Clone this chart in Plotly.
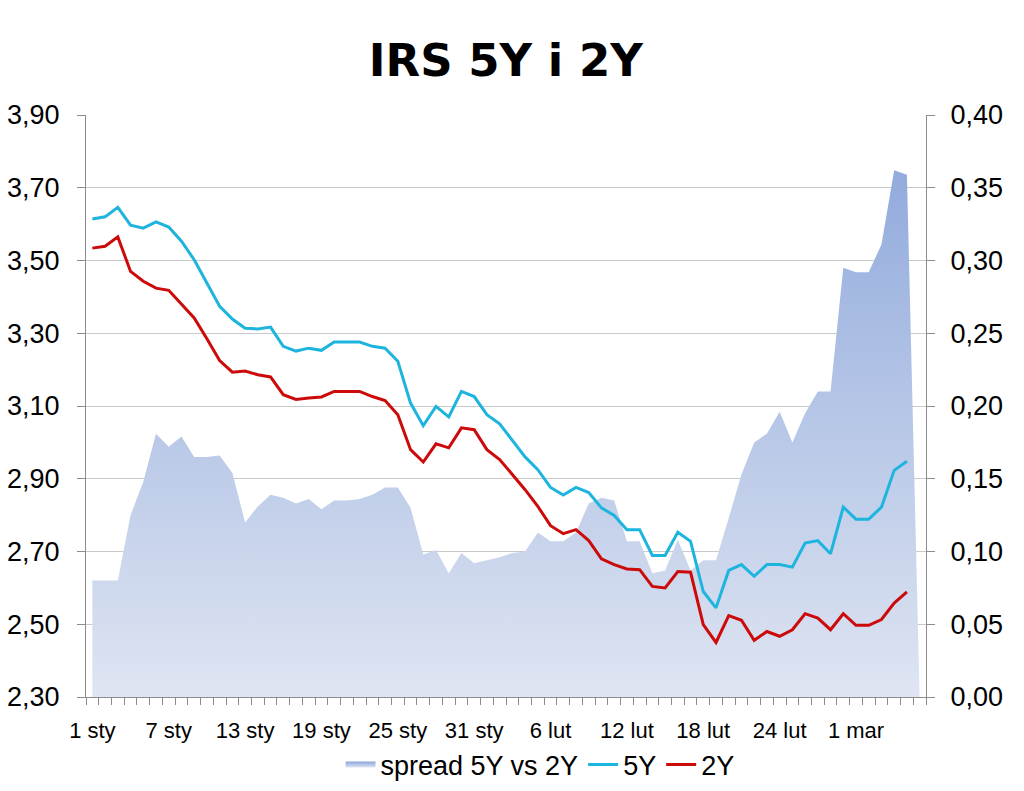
""" IRS 5Y i 2Y - spread chart with two rate lines """

import pandas as pd
import plotly.graph_objects as go

# daily dates, 1 Jan .. 6 Mar (leap year: 24 lut -> 1 mar is 6 days)
DATES = pd.date_range('2012-01-01', '2012-03-06', freq='D')

IRS_5Y = [
    3.614, 3.620, 3.646, 3.597, 3.589, 3.606, 3.592, 3.553, 3.502, 3.440,
    3.374, 3.339, 3.314, 3.312, 3.317, 3.264, 3.251, 3.259, 3.253, 3.276,
    3.276, 3.276, 3.264, 3.259, 3.223, 3.108, 3.046, 3.099, 3.070, 3.140,
    3.126, 3.076, 3.051, 3.007, 2.960, 2.925, 2.876, 2.855, 2.876, 2.862,
    2.820, 2.799, 2.760, 2.760, 2.689, 2.689, 2.753, 2.728, 2.590, 2.545,
    2.648, 2.664, 2.632, 2.664, 2.664, 2.657, 2.723, 2.730, 2.694, 2.822,
    2.789, 2.789, 2.822, 2.923, 2.948,
]

IRS_2Y = [
    3.534, 3.539, 3.565, 3.470, 3.443, 3.424, 3.418, 3.380, 3.342, 3.285,
    3.225, 3.193, 3.196, 3.186, 3.180, 3.131, 3.118, 3.122, 3.125, 3.140,
    3.140, 3.140, 3.126, 3.115, 3.076, 2.980, 2.946, 2.996, 2.985, 3.040,
    3.035, 2.980, 2.953, 2.911, 2.870, 2.824, 2.771, 2.749, 2.760, 2.730,
    2.680, 2.664, 2.652, 2.650, 2.604, 2.600, 2.645, 2.643, 2.499, 2.450,
    2.524, 2.511, 2.456, 2.480, 2.467, 2.485, 2.529, 2.517, 2.485, 2.529,
    2.497, 2.497, 2.513, 2.558, 2.589,
]

SPREAD = [
    0.080, 0.080, 0.080, 0.125, 0.148, 0.181, 0.172, 0.179, 0.165, 0.165,
    0.166, 0.154, 0.120, 0.131, 0.139, 0.137, 0.133, 0.136, 0.129, 0.135,
    0.135, 0.136, 0.139, 0.144, 0.144, 0.130, 0.098, 0.101, 0.085, 0.099,
    0.092, 0.094, 0.096, 0.099, 0.100, 0.113, 0.107, 0.107, 0.113, 0.133,
    0.137, 0.135, 0.107, 0.107, 0.085, 0.087, 0.108, 0.087, 0.094, 0.094,
    0.123, 0.153, 0.175, 0.181, 0.196, 0.175, 0.195, 0.210, 0.210, 0.295,
    0.292, 0.292, 0.311, 0.362, 0.359, 0.000,
]

TICK_LABELS = ['1 sty', '7 sty', '13 sty', '19 sty', '25 sty', '31 sty',
               '6 lut', '12 lut', '18 lut', '24 lut', '1 mar']
TICK_DATES = list(DATES[::6][:len(TICK_LABELS)])

FONT = 'Liberation Sans'
AXIS_GREY = '#8c8c8c'

fig = go.Figure()

# spread as gradient area, on the right-hand axis (drawn underneath)
fig.add_trace(go.Scatter(
    x=DATES, y=SPREAD,
    mode='none',
    fill='tozeroy',
    fillgradient=dict(type='vertical',
                      colorscale=[[0, '#dfe5f2'], [1, '#8aa5da']],
                      start=0, stop=0.4),
    name='spread 5Y vs 2Y',
    yaxis='y',
))

fig.add_trace(go.Scatter(
    x=DATES[:len(IRS_5Y)], y=IRS_5Y,
    mode='lines',
    line=dict(color='#1db4de', width=3),
    name='5Y',
    yaxis='y2',
))

fig.add_trace(go.Scatter(
    x=DATES[:len(IRS_2Y)], y=IRS_2Y,
    mode='lines',
    line=dict(color='#cc0a0a', width=3),
    name='2Y',
    yaxis='y2',
))

half_day = pd.Timedelta(hours=12)

fig.update_layout(
    width=1024, height=791,
    margin=dict(l=86, r=98, t=115, b=94),
    paper_bgcolor='white', plot_bgcolor='white',
    separators=', ',
    font=dict(family=FONT, color='black'),
    title=dict(text='<b>IRS 5Y i 2Y</b>', x=0.494, xref='container',
               y=1 - 60 / 791, yref='container', yanchor='middle',
               xanchor='center',
               font=dict(family='DejaVu Sans', size=45, color='black')),
    showlegend=True,
    legend=dict(orientation='h', x=540 / 1024, xref='container',
                xanchor='center',
                y=1 - 765 / 791, yref='container', yanchor='middle',
                font=dict(size=27), itemwidth=30,
                bgcolor='rgba(0,0,0,0)'),
    xaxis=dict(
        type='date', automargin=False,
        range=[DATES[0] - half_day, DATES[-1] + half_day],
        tickmode='array', tickvals=TICK_DATES, ticktext=TICK_LABELS,
        ticks='', tickfont=dict(size=22), ticklabelstandoff=14,
        showgrid=False, zeroline=False,
        showline=True, linecolor=AXIS_GREY, linewidth=1,
        minor=dict(ticks='outside', ticklen=7, tickcolor=AXIS_GREY,
                   tick0=DATES[0] - half_day, dtick=86400000,
                   showgrid=False),
    ),
    yaxis=dict(
        side='right', range=[0, 0.4], dtick=0.05, tick0=0, automargin=False,
        tickformat='.2f', tickfont=dict(size=27),
        ticks='outside', ticklen=8, tickcolor=AXIS_GREY,
        ticklabelstandoff=10,
        showgrid=True, gridcolor='#cacaca', gridwidth=1,
        zeroline=False,
        showline=True, linecolor=AXIS_GREY, linewidth=1,
    ),
    yaxis2=dict(
        overlaying='y', side='left', range=[2.30, 3.90], automargin=False,
        dtick=0.2, tick0=2.30, tickformat='.2f', tickfont=dict(size=27),
        ticks='outside', ticklen=8, tickcolor=AXIS_GREY,
        ticklabelstandoff=12,
        showgrid=False, zeroline=False,
        showline=True, linecolor=AXIS_GREY, linewidth=1,
    ),
)

# drop the default page margin so the figure sits at the window origin
fig.write_html('out.html', config={'displayModeBar': False},
               post_script="document.body.style.margin = '0';")
